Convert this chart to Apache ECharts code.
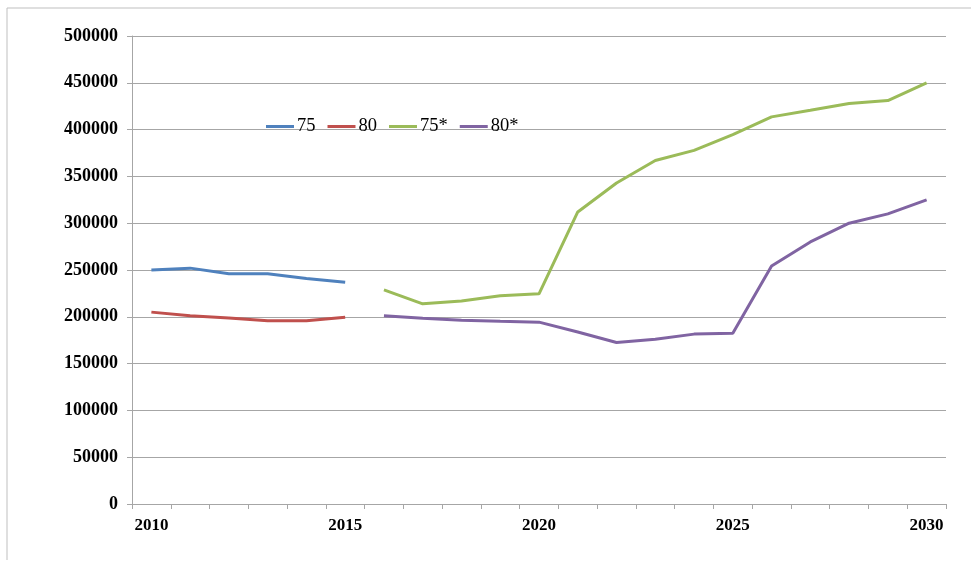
<!DOCTYPE html>
<html><head><meta charset="utf-8">
<script src="https://cdn.jsdelivr.net/npm/echarts@6/dist/echarts.min.js"></script>
<style>html,body{margin:0;padding:0;background:#fff}#c{width:971px;height:565px}</style>
</head><body><div id="c"></div>
<script>
const years = ['2010','2011','2012','2013','2014','2015','2016','2017','2018','2019','2020','2021','2022','2023','2024','2025','2026','2027','2028','2029','2030'];
const yTicks = [0,50000,100000,150000,200000,250000,300000,350000,400000,450000,500000];
const s75 = [250000,252000,246000,246000,241000,237000,null,null,null,null,null,null,null,null,null,null,null,null,null,null,null];
const s80 = [205000,201000,198600,195700,195700,199500,null,null,null,null,null,null,null,null,null,null,null,null,null,null,null];
const s75s = [null,null,null,null,null,null,228800,213900,217000,222400,224500,312000,343000,367000,377800,394600,413600,420700,427900,431000,450000];
const s80s = [null,null,null,null,null,null,201000,198500,196300,195200,194300,183800,172600,176100,181500,182500,254300,280000,300000,310000,325000];
const names = ['75','80','75*','80*'];
const colors = ['#4F81BD','#C0504D','#9BBB59','#8064A2'];
const chart = echarts.init(document.getElementById('c'));
const mk = (n,d,c)=>({name:n,type:'line',data:d,showSymbol:false,symbol:'none',connectNulls:false,
  lineStyle:{width:3,color:c},itemStyle:{color:c},emphasis:{disabled:true}});
chart.setOption({
  animation:false,
  textStyle:{fontFamily:'Liberation Serif'},
  grid:{left:132,right:25,top:36,bottom:61,containLabel:false},
  graphic:[{type:'polyline',shape:{points:[[7,560],[7,8],[971,8]]},style:{stroke:'#BFBFBF',lineWidth:1,fill:null}}],
  legend:{data:names,left:266,top:117,padding:0,icon:'rect',itemWidth:28,itemHeight:3,itemGap:12,
    textStyle:{fontFamily:'Liberation Serif',fontSize:18.5,color:'#000',padding:[0,0,0,-2]}},
  xAxis:{type:'category',data:years,boundaryGap:true,
    axisLine:{lineStyle:{color:'#A6A6A6',width:1}},
    axisTick:{show:true,interval:0,length:5,lineStyle:{color:'#A6A6A6'}},
    axisLabel:{interval:4,margin:13,fontFamily:'Liberation Serif',fontWeight:'bold',fontSize:17,color:'#000'},
    splitLine:{show:false}},
  yAxis:{type:'value',min:yTicks[0],max:yTicks[yTicks.length-1],interval:50000,
    axisLine:{show:true,lineStyle:{color:'#A6A6A6',width:1}},
    axisTick:{show:true,length:5,lineStyle:{color:'#A6A6A6'}},
    axisLabel:{margin:14,formatter:v=>String(v),fontFamily:'Liberation Serif',fontWeight:'bold',fontSize:18,color:'#000'},
    splitLine:{show:true,lineStyle:{color:'#A6A6A6',width:1}}},
  series:[mk(names[0],s75,colors[0]),mk(names[1],s80,colors[1]),mk(names[2],s75s,colors[2]),mk(names[3],s80s,colors[3])]
});
</script></body></html>
